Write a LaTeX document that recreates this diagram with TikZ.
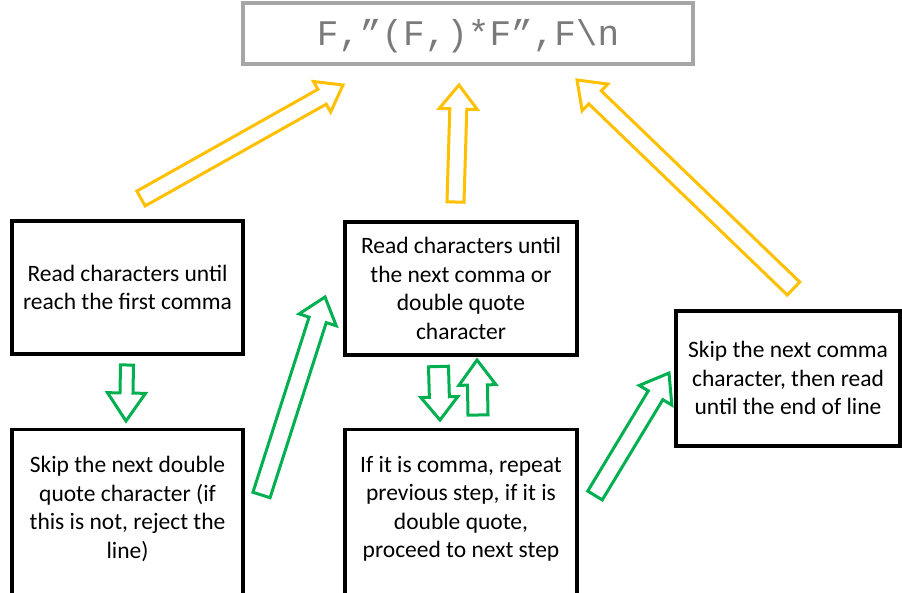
\documentclass[tikz,border=0pt]{standalone}
\usepackage{fontspec}
\setmainfont{Carlito}
\newfontfamily\codefont{Liberation Mono}
\usetikzlibrary{calc}
\definecolor{arrowyellow}{HTML}{FFC000}
\definecolor{arrowgreen}{HTML}{00B050}
\definecolor{codegray}{HTML}{7A7A7A}
\definecolor{framegray}{HTML}{A6A6A6}
\tikzset{
  stepbox/.style={draw=black, line width=3.3pt, fill=white, inner sep=0pt},
  steptext/.style={align=center, font=\fontsize{23.5}{28.5}\selectfont, text=black, inner sep=0pt},
  codebox/.style={draw=framegray, line width=3.2pt, fill=white, inner sep=0pt,
     minimum width=450pt, minimum height=61pt},
}
% #1 start, #2 end, #3 shaft half width, #4 head half width, #5 head length, #6 colour
\newcommand{\blockarrow}[6]{%
  \coordinate (hb) at ($(#2)!#5!(#1)$);
  \draw[draw=#6, line width=3pt, line join=miter, fill=white]
    ($(#1)!#3!90:(#2)$) -- ($(hb)!#3!-90:(#1)$) -- ($(hb)!#4!-90:(#1)$) -- (#2)
    -- ($(hb)!#4!90:(#1)$) -- ($(hb)!#3!90:(#1)$) -- ($(#1)!#3!-90:(#2)$) -- cycle;
}
\begin{document}
\begin{tikzpicture}[x=1pt,y=-1pt]
\useasboundingbox (0,0) rectangle (902,592);
\fill[white] (0,0) rectangle (902,592);

% top code box
\node[codebox] (code) at (468,33.5) {};
\node[font=\codefont\fontsize{36}{40}\selectfont, text=codegray, inner sep=0pt, anchor=base] (codetxt) at (468,45) {F,”(F,)*F”,F\textbackslash n};

% step boxes
\node[stepbox, minimum width=231pt, minimum height=133pt] (A) at (127.5,287.5) {};
\node[steptext] (At) at (127.5,287.5) {Read characters until\\reach the first comma};

\node[stepbox, minimum width=231pt, minimum height=180pt, anchor=north] (B) at (127.5,428) {};
\node[steptext] (Bt) at (127.5,509) {Skip the next double\\quote character (if\\this is not, reject the\\line)};

\node[stepbox, minimum width=232pt, minimum height=133pt] (C) at (461,288.5) {};
\node[steptext] (Ct) at (461,288.5) {Read characters until\\the next comma or\\double quote\\character};

\node[stepbox, minimum width=232pt, minimum height=180pt, anchor=north] (D) at (461,428) {};
\node[steptext] (Dt) at (461,509) {If it is comma, repeat\\previous step, if it is\\double quote,\\proceed to next step};

\node[stepbox, minimum width=224pt, minimum height=135pt] (E) at (788,378.5) {};
\node[steptext] (Et) at (788,378) {Skip the next comma\\character, then read\\until the end of line};

% arrow end points
\coordinate (y1s) at (141,198.5);  \coordinate (y1e) at (343,85);
\coordinate (y2s) at (455.5,202);  \coordinate (y2e) at (459,85);
\coordinate (y3s) at (793.5,288.5);\coordinate (y3e) at (577,80);
\coordinate (g1s) at (127,365);    \coordinate (g1e) at (126,421);
\coordinate (g2s) at (261.5,495);  \coordinate (g2e) at (325,297);
\coordinate (g3s) at (438.5,366.5);\coordinate (g3e) at (440,420);
\coordinate (g4s) at (478,415);    \coordinate (g4e) at (477,360);
\coordinate (g5s) at (595,495.5);  \coordinate (g5e) at (669,373);

% yellow arrows to the code box
\blockarrow{y1s}{y1e}{8.5pt}{17.5pt}{24pt}{arrowyellow}
\blockarrow{y2s}{y2e}{8.5pt}{19pt}{24pt}{arrowyellow}
\blockarrow{y3s}{y3e}{9pt}{18.5pt}{25pt}{arrowyellow}

% green arrows between steps
\blockarrow{g1s}{g1e}{6.5pt}{19pt}{28pt}{arrowgreen}
\blockarrow{g2s}{g2e}{9pt}{19.5pt}{24pt}{arrowgreen}
\blockarrow{g3s}{g3e}{10pt}{18.5pt}{23pt}{arrowgreen}
\blockarrow{g4s}{g4e}{10pt}{18.5pt}{25pt}{arrowgreen}
\blockarrow{g5s}{g5e}{8.5pt}{19pt}{26pt}{arrowgreen}
\end{tikzpicture}
\end{document}
